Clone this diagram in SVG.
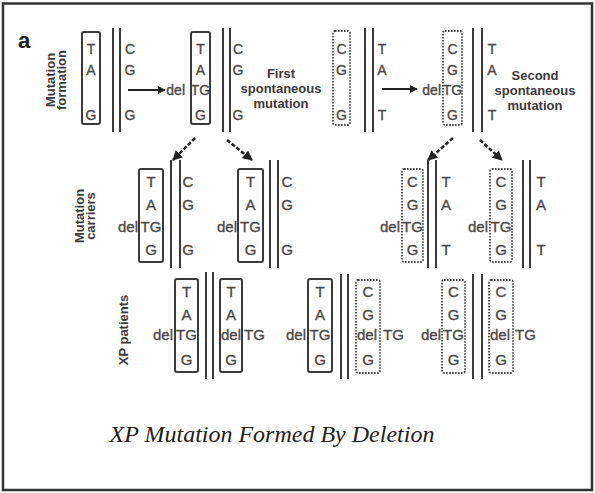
<svg xmlns="http://www.w3.org/2000/svg" width="595" height="493" viewBox="0 0 595 493">
<style>
.frame{fill:#fff;stroke:#333;stroke-width:2.5}
.box{fill:none;stroke:#3a3a3a;stroke-width:2;rx:2}
.dbox{fill:none;stroke:#444;stroke-width:1.8;stroke-dasharray:1.6 1.4;rx:2}
.strand{stroke:#3a3a3a;stroke-width:2}
.b{font-family:"Liberation Sans",Arial,sans-serif;fill:#4a4a4a;stroke:#4a4a4a;stroke-width:0.35;text-anchor:middle}
.s13{font-size:14px}
.s14{font-size:15px}
.l{text-anchor:start}
.r{text-anchor:end}
.lbl{font-family:"Liberation Sans",Arial,sans-serif;font-weight:bold;font-size:13px;fill:#3a3a3a;text-anchor:middle}
.arr{stroke:#222;stroke-width:2;fill:none;marker-end:url(#ah)}
.darr{stroke:#222;stroke-width:2.5;stroke-dasharray:4 2;fill:none;marker-end:url(#ah)}
</style>
<defs>
<marker id="ah" viewBox="0 0 10 10" refX="9" refY="5" markerWidth="4" markerHeight="4" orient="auto" markerUnits="strokeWidth">
<path d="M0,0 L10,5 L0,10 z" fill="#222"/>
</marker>
</defs>
<rect class="frame" x="3" y="3.5" width="589" height="486.5"/>
<text x="18" y="48" font-family="Liberation Sans, Arial, sans-serif" font-weight="bold" font-size="22" fill="#222">a</text>
<g id="row-labels">
<text class="lbl" transform="translate(56,80) rotate(-90)"><tspan x="0" y="-1">Mutation</tspan><tspan x="0" y="10">formation</tspan></text>
<text class="lbl" transform="translate(85,216) rotate(-90)"><tspan x="0" y="-1">Mutation</tspan><tspan x="0" y="10">carriers</tspan></text>
<text class="lbl" transform="translate(123,330) rotate(-90)" x="0" y="5">XP patients</text>
<text class="lbl" x="281"><tspan x="281" y="78">First</tspan><tspan x="281" y="93">spontaneous</tspan><tspan x="281" y="108">mutation</tspan></text>
<text class="lbl" x="535"><tspan x="535" y="80">Second</tspan><tspan x="535" y="95">spontaneous</tspan><tspan x="535" y="110">mutation</tspan></text>
</g>
<g id="connectors">
<line class="arr" x1="128" y1="90" x2="165" y2="90"/>
<line class="arr" x1="382" y1="89" x2="417" y2="89"/>
<line class="darr" x1="195" y1="138" x2="173" y2="160"/>
<line class="darr" x1="227" y1="140" x2="252" y2="160"/>
<line class="darr" x1="453" y1="138" x2="428" y2="160"/>
<line class="darr" x1="480" y1="140" x2="502" y2="160"/>
</g>
<g id="wildtype-1">
<rect class="box" x="82" y="32" width="18" height="92"/>
<text class="b s13" x="91" y="54">T</text><text class="b s13" x="91" y="75">A</text><text class="b s13" x="91" y="120">G</text>
<line class="strand" x1="113" y1="28" x2="113" y2="132"/><line class="strand" x1="120" y1="28" x2="120" y2="132"/>
<text class="b s13" x="130" y="54">C</text><text class="b s13" x="130" y="75">G</text><text class="b s13" x="130" y="120">G</text>
</g>
<g id="mutant-1">
<rect class="box" x="191" y="32" width="19" height="92"/>
<text class="b s13 r" x="185" y="95">del</text>
<text class="b s13" x="200.5" y="54">T</text><text class="b s13" x="200.5" y="75">A</text><text class="b s13" x="200.5" y="95">TG</text><text class="b s13" x="200.5" y="120">G</text>
<line class="strand" x1="223" y1="28" x2="223" y2="132"/><line class="strand" x1="230" y1="28" x2="230" y2="132"/>
<text class="b s13" x="238" y="54">C</text><text class="b s13" x="238" y="75">G</text><text class="b s13" x="238" y="120">G</text>
</g>
<g id="wildtype-2">
<rect class="dbox" x="333" y="31" width="17" height="94"/>
<text class="b s13" x="341.5" y="54">C</text><text class="b s13" x="341.5" y="75">G</text><text class="b s13" x="341.5" y="120">G</text>
<line class="strand" x1="365" y1="28" x2="365" y2="132"/><line class="strand" x1="373" y1="28" x2="373" y2="132"/>
<text class="b s13" x="382" y="54">T</text><text class="b s13" x="382" y="75">A</text><text class="b s13" x="382" y="120">T</text>
</g>
<g id="mutant-2">
<rect class="dbox" x="443" y="31" width="19" height="94"/>
<text class="b s13 r" x="441" y="95">del</text>
<text class="b s13" x="452.5" y="54">C</text><text class="b s13" x="452.5" y="75">G</text><text class="b s13" x="452.5" y="95">TG</text><text class="b s13" x="452.5" y="120">G</text>
<line class="strand" x1="473" y1="28" x2="473" y2="132"/><line class="strand" x1="482" y1="28" x2="482" y2="132"/>
<text class="b s13" x="492" y="54">T</text><text class="b s13" x="492" y="75">A</text><text class="b s13" x="492" y="120">T</text>
</g>
<g id="carrier-1a">
<rect class="box" x="139" y="169" width="24" height="93"/>
<text class="b s14 r" x="138" y="232">del</text>
<text class="b s14" x="151" y="187">T</text><text class="b s14" x="151" y="210">A</text><text class="b s14" x="151" y="232">TG</text><text class="b s14" x="151" y="255">G</text>
<line class="strand" x1="171" y1="160" x2="171" y2="268"/><line class="strand" x1="180" y1="160" x2="180" y2="268"/>
<text class="b s14" x="188" y="187">C</text><text class="b s14" x="188" y="210">G</text><text class="b s14" x="188" y="255">G</text>
</g>
<g id="carrier-1b">
<rect class="box" x="238" y="169" width="25" height="93"/>
<text class="b s14 r" x="237" y="232">del</text>
<text class="b s14" x="250.5" y="187">T</text><text class="b s14" x="250.5" y="210">A</text><text class="b s14" x="250.5" y="232">TG</text><text class="b s14" x="250.5" y="255">G</text>
<line class="strand" x1="270" y1="160" x2="270" y2="268"/><line class="strand" x1="278" y1="160" x2="278" y2="268"/>
<text class="b s14" x="287" y="187">C</text><text class="b s14" x="287" y="210">G</text><text class="b s14" x="287" y="255">G</text>
</g>
<g id="carrier-2a">
<rect class="dbox" x="402" y="169" width="21" height="93"/>
<text class="b s14 r" x="400" y="232">del</text>
<text class="b s14" x="412.5" y="187">C</text><text class="b s14" x="412.5" y="210">G</text><text class="b s14" x="412.5" y="232">TG</text><text class="b s14" x="412.5" y="255">G</text>
<line class="strand" x1="428" y1="160" x2="428" y2="268"/><line class="strand" x1="436" y1="160" x2="436" y2="268"/>
<text class="b s14" x="446" y="187">T</text><text class="b s14" x="446" y="210">A</text><text class="b s14" x="446" y="255">T</text>
</g>
<g id="carrier-2b">
<rect class="dbox" x="490" y="169" width="22" height="93"/>
<text class="b s14 r" x="488" y="232">del</text>
<text class="b s14" x="501" y="187">C</text><text class="b s14" x="501" y="210">G</text><text class="b s14" x="501" y="232">TG</text><text class="b s14" x="501" y="255">G</text>
<line class="strand" x1="523" y1="160" x2="523" y2="268"/><line class="strand" x1="530" y1="160" x2="530" y2="268"/>
<text class="b s14" x="541" y="187">T</text><text class="b s14" x="541" y="210">A</text><text class="b s14" x="541" y="255">T</text>
</g>
<g id="patient-1">
<rect class="box" x="175" y="279" width="23" height="93"/>
<text class="b s14 r" x="173" y="340">del</text>
<text class="b s14" x="186.5" y="297">T</text><text class="b s14" x="186.5" y="320">A</text><text class="b s14" x="186.5" y="340">TG</text><text class="b s14" x="186.5" y="365">G</text>
<line class="strand" x1="206" y1="272" x2="206" y2="379"/><line class="strand" x1="213" y1="272" x2="213" y2="379"/>
<rect class="box" x="220" y="279" width="22" height="93"/>
<text class="b s14" x="231" y="297">T</text><text class="b s14" x="231" y="320">A</text><text class="b s14 l" x="221" y="340">del</text><text class="b s14 l" x="244" y="340">TG</text><text class="b s14" x="231" y="365">G</text>
</g>
<g id="patient-2">
<rect class="box" x="308" y="279" width="24" height="93"/>
<text class="b s14 r" x="306" y="340">del</text>
<text class="b s14" x="320" y="297">T</text><text class="b s14" x="320" y="320">A</text><text class="b s14" x="320" y="340">TG</text><text class="b s14" x="320" y="365">G</text>
<line class="strand" x1="341" y1="274" x2="341" y2="379"/><line class="strand" x1="348" y1="274" x2="348" y2="379"/>
<rect class="dbox" x="356" y="280" width="24" height="93"/>
<text class="b s14" x="368" y="297">C</text><text class="b s14" x="368" y="320">G</text><text class="b s14 l" x="357" y="340">del</text><text class="b s14 l" x="383" y="340">TG</text><text class="b s14" x="368" y="365">G</text>
</g>
<g id="patient-3">
<rect class="dbox" x="442" y="280" width="23" height="93"/>
<text class="b s14 r" x="441" y="340">del</text>
<text class="b s14" x="453.5" y="297">C</text><text class="b s14" x="453.5" y="320">G</text><text class="b s14" x="453.5" y="340">TG</text><text class="b s14" x="453.5" y="365">G</text>
<line class="strand" x1="473" y1="274" x2="473" y2="379"/><line class="strand" x1="482" y1="274" x2="482" y2="379"/>
<rect class="dbox" x="489" y="280" width="24" height="93"/>
<text class="b s14" x="501" y="297">C</text><text class="b s14" x="501" y="320">G</text><text class="b s14 l" x="490" y="340">del</text><text class="b s14 l" x="515" y="340">TG</text><text class="b s14" x="501" y="365">G</text>
</g>
<text x="272" y="442" font-family="Liberation Serif, 'Times New Roman', serif" font-style="italic" font-size="24" fill="#222" text-anchor="middle">XP Mutation Formed By Deletion</text>
</svg>
